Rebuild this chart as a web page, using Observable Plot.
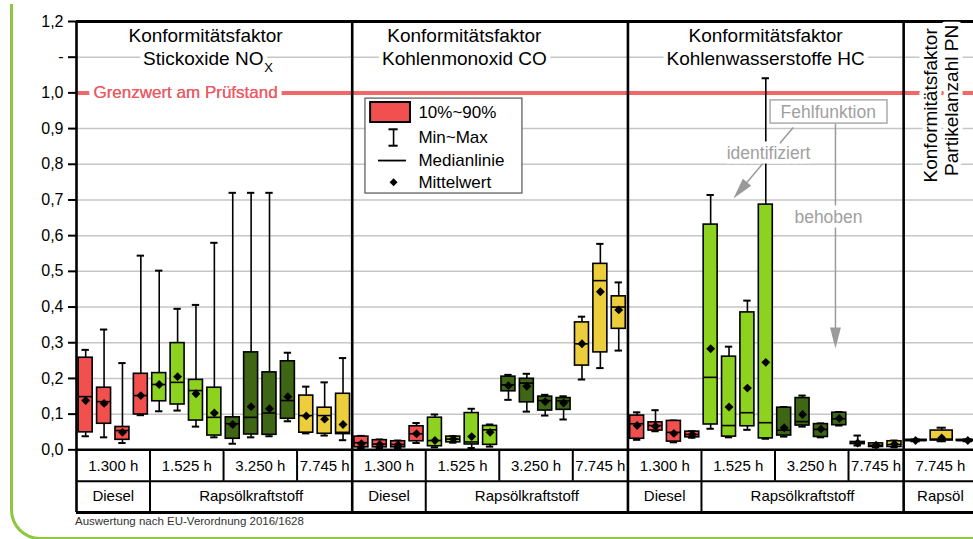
<!DOCTYPE html>
<html><head><meta charset="utf-8">
<script src="https://cdn.jsdelivr.net/npm/d3@7"></script>
<script src="https://cdn.jsdelivr.net/npm/@observablehq/plot@0.6"></script>
<style>
html,body{margin:0;padding:0;background:#fff;overflow:hidden;width:973px;height:539px;}
#wrap{position:relative;width:973px;height:539px;overflow:hidden;}
#deco{position:absolute;left:10px;top:4px;width:1200px;height:533px;border-left:3px solid #8dc63f;border-bottom:3px solid #8dc63f;border-bottom-left-radius:30px;pointer-events:none;z-index:2;}
#caption{position:absolute;left:75px;top:515px;font:11.5px "Liberation Sans",Arial,sans-serif;color:#333;}
</style></head>
<body><div id="wrap"><div id="chart"></div><div id="caption">Auswertung nach EU-Verordnung 2016/1628</div><div id="deco"></div></div>
<script>
// ---------- data ----------
const panels = ["NOx", "CO", "HC", "PN"];
const hours = ["1.300 h", "1.525 h", "3.250 h", "7.745 h"];
const fuels = ["Diesel", "Rapsölkraftstoff"];
const slotHours = [0,0,0,0,1,1,1,1,2,2,2,2,3,3,3];
const pnSlotHours = [3,3,3];
const yTicks = [0,0.1,0.2,0.3,0.4,0.5,0.6,0.7,0.8,0.9,1.0,1.1,1.2];
const limitValue = 1.0;

const noxMin    = [0.038,0.035,0.019,0.097,0.108,0.110,0.065,0.035,0.017,0.035,0.038,0.080,0.046,0.040,0.027];
const noxP10    = [0.049,0.073,0.028,0.099,0.136,0.127,0.082,0.040,0.031,0.043,0.042,0.087,0.048,0.045,0.044];
const noxMedian = [0.149,0.135,0.054,0.152,0.183,0.189,0.166,0.091,0.073,0.091,0.103,0.138,0.096,0.096,0.049];
const noxMean   = [0.138,0.130,0.049,0.152,0.183,0.205,0.157,0.103,0.071,0.121,0.115,0.149,0.095,0.086,0.071];
const noxP90    = [0.258,0.174,0.064,0.213,0.215,0.299,0.196,0.174,0.091,0.273,0.217,0.248,0.152,0.118,0.157];
const noxMax    = [0.280,0.337,0.243,0.544,0.502,0.395,0.406,0.580,0.720,0.720,0.720,0.272,0.177,0.189,0.257];

const coMin    = [0.005,0.005,0.005,0.019,0.007,0.020,0.005,0.009,0.140,0.107,0.096,0.085,0.197,0.229,0.278];
const coP10    = [0.007,0.007,0.007,0.024,0.010,0.021,0.015,0.014,0.164,0.133,0.110,0.112,0.236,0.273,0.339];
const coMedian = [0.020,0.016,0.015,0.045,0.026,0.030,0.022,0.056,0.182,0.187,0.138,0.137,0.297,0.474,0.400];
const coMean   = [0.017,0.015,0.014,0.045,0.026,0.030,0.037,0.049,0.180,0.178,0.135,0.131,0.297,0.443,0.392];
const coP90    = [0.037,0.027,0.024,0.066,0.090,0.037,0.103,0.067,0.205,0.199,0.149,0.145,0.357,0.521,0.430];
const coMax    = [0.039,0.029,0.026,0.075,0.099,0.038,0.115,0.071,0.210,0.213,0.154,0.150,0.373,0.577,0.469];

const hcMin    = [0.028,0.052,0.021,0.034,0.059,0.035,0.056,0.031,0.037,0.065,0.035,0.068,0.012,0.007,0.007];
const hcP10    = [0.031,0.054,0.023,0.035,0.071,0.037,0.066,0.032,0.040,0.068,0.036,0.069,0.016,0.008,0.008];
const hcMedian = [0.073,0.068,0.049,0.043,0.203,0.068,0.104,0.076,0.055,0.079,0.057,0.087,0.019,0.013,0.015];
const hcMean   = [0.068,0.066,0.046,0.043,0.283,0.120,0.173,0.245,0.062,0.099,0.058,0.088,0.019,0.013,0.016];
const hcP90    = [0.096,0.077,0.081,0.051,0.631,0.261,0.385,0.687,0.118,0.145,0.072,0.104,0.022,0.018,0.024];
const hcMax    = [0.105,0.111,0.082,0.052,0.714,0.289,0.418,1.041,0.120,0.152,0.074,0.106,0.040,0.019,0.026];

const pnMin    = [0.024,0.024,0.024];
const pnP10    = [0.025,0.026,0.025];
const pnMedian = [0.026,0.030,0.026];
const pnMean   = [0.026,0.033,0.026];
const pnP90    = [0.028,0.054,0.028];
const pnMax    = [0.029,0.062,0.029];

const panelTitles = [
  ["Konformitätsfaktor", "Stickoxide NO"],
  ["Konformitätsfaktor", "Kohlenmonoxid CO"],
  ["Konformitätsfaktor", "Kohlenwasserstoffe HC"]
];
const pnTitle = ["Konformitätsfaktor", "Partikelanzahl PN"];
const limitLabel = "Grenzwert am Prüfstand";
const legendLabels = ["10%~90%", "Min~Max", "Medianlinie", "Mittelwert"];
const noteLabels = ["Fehlfunktion", "identifiziert", "behoben"];

// ---------- styles / layout ----------
const palette = ["#f24f4f", "#8cd21e", "#3e6614", "#ecce3c"];
const SLOTS = 15, PN_SLOT = 1.42, PN_START = 0.65;
const xMax = 48.8;
const row1Bottom = -0.088, row2Bottom = -0.1756;
const row1Y = -0.0454, row2Y = -0.1308;
const groupSpans = [[0,4],[4,8],[8,12],[12,15]];
const fuelSpans = [[0,4],[4,15]];
const titleX = [7.02, 21.1, 37.49];
const titleY = [1.1605, 1.0944];
const FONT = '"Liberation Sans", Arial, Helvetica, sans-serif';

function build(pi, hIdx, mn, p10, med, mean, p90, mx) {
  const pn = pi === 3;
  return mn.map((_, i) => {
    const x = pn ? pi * SLOTS + PN_START + i * PN_SLOT : pi * SLOTS + i + 0.5;
    const hw = pn ? 0.6 : 0.38;
    const cw = pn ? 0.25 : 0.2;
    return {panel: panels[pi], hour: hours[hIdx[i]], x, x1: x - hw, x2: x + hw, c1: x - cw, c2: x + cw,
      min: mn[i], p10: p10[i], median: med[i], mean: mean[i], p90: p90[i], max: mx[i]};
  });
}
const boxes = [
  ...build(0, slotHours, noxMin, noxP10, noxMedian, noxMean, noxP90, noxMax),
  ...build(1, slotHours, coMin, coP10, coMedian, coMean, coP90, coMax),
  ...build(2, slotHours, hcMin, hcP10, hcMedian, hcMean, hcP90, hcMax),
  ...build(3, pnSlotHours, pnMin, pnP10, pnMedian, pnMean, pnP90, pnMax)
];

// table cells
const row1Cells = [], row2Cells = [], row1Div = [], row2Div = [];
for (let p = 0; p < 3; p++) {
  groupSpans.forEach((s, i) => {
    row1Cells.push({x: p * SLOTS + (s[0] + s[1]) / 2, text: hours[i]});
    if (i > 0) row1Div.push(p * SLOTS + s[0]);
  });
  fuelSpans.forEach((s, i) => {
    row2Cells.push({x: p * SLOTS + (s[0] + s[1]) / 2, text: fuels[i]});
    if (i > 0) row2Div.push(p * SLOTS + s[0]);
  });
}
row1Cells.push({x: 3 * SLOTS + 2, text: hours[3]});
row2Cells.push({x: 3 * SLOTS + 2, text: "Rapsöl"});

const titleRows = [];
panelTitles.forEach((t, p) => {
  titleRows.push({x: titleX[p], y: titleY[0], text: t[0]});
  if (p !== 0) titleRows.push({x: titleX[p], y: titleY[1], text: t[1]});
});

const arrowHead = {draw(ctx, size) {
  const k = Math.sqrt(size);
  ctx.moveTo(0, -0.97 * k); ctx.lineTo(0.44 * k, 0.73 * k); ctx.lineTo(-0.44 * k, 0.73 * k); ctx.closePath();
}};

const fmt = v => Math.abs(v - 1.1) < 1e-9 ? "-" : v.toFixed(1).replace(".", ",");
const black = "black";
const grey = "#9a9a9a";

const chart = Plot.plot({
  width: 973, height: 516,
  marginLeft: 76, marginRight: 0, marginTop: 21, marginBottom: 4,
  x: {domain: [0, xMax], axis: null},
  y: {domain: [row2Bottom, 1.2]},
  color: {domain: hours, range: palette},
  style: {fontFamily: FONT, fontSize: "16px", background: "transparent", overflow: "visible"},
  marks: [
    // grid
    Plot.ruleY(yTicks.filter(v => v > 0 && v < 1.2 && Math.abs(v - limitValue) > 1e-9), {stroke: "#c6c6c6", strokeWidth: 1.5}),
    Plot.ruleY([limitValue], {stroke: "#f06868", strokeWidth: 4}),
    // whiskers
    Plot.ruleX(boxes, {x: "x", y1: "min", y2: "max", stroke: black, strokeWidth: 1.6}),
    Plot.ruleY(boxes, {y: "max", x1: "c1", x2: "c2", stroke: black, strokeWidth: 2}),
    Plot.ruleY(boxes, {y: "min", x1: "c1", x2: "c2", stroke: black, strokeWidth: 2}),
    // boxes
    Plot.rect(boxes, {x1: "x1", x2: "x2", y1: "p10", y2: "p90", fill: "hour", stroke: black, strokeWidth: 1.6}),
    Plot.ruleY(boxes, {y: "median", x1: "x1", x2: "x2", stroke: black, strokeWidth: 1.6}),
    Plot.dot(boxes, {x: "x", y: "mean", symbol: "diamond2", r: 4, fill: black, stroke: "none"}),
    // frame and table
    Plot.ruleY([1.2], {stroke: black, strokeWidth: 3}),
    Plot.ruleY([0], {stroke: black, strokeWidth: 2.5}),
    Plot.ruleY([row1Bottom], {stroke: black, strokeWidth: 2}),
    Plot.ruleY([row2Bottom], {stroke: black, strokeWidth: 3}),
    Plot.ruleX([0, 15, 30, 45], {y1: row2Bottom, y2: 1.2, stroke: black, strokeWidth: 2.6}),
    Plot.ruleX(row1Div, {y1: row1Bottom, y2: 0, stroke: black, strokeWidth: 2}),
    Plot.ruleX(row2Div, {y1: row2Bottom, y2: row1Bottom, stroke: black, strokeWidth: 2}),
    Plot.text(row1Cells, {x: "x", y: row1Y, text: "text", fontSize: 15, fill: black}),
    Plot.text(row2Cells, {x: "x", y: row2Y, text: "text", fontSize: 15, fill: black}),
    // titles
    Plot.text(titleRows, {x: "x", y: "y", text: "text", fontSize: 19, fill: black, stroke: "white", strokeWidth: 9, paintOrder: "stroke"}),
    Plot.text([panelTitles[0][1]], {x: 10.17, y: titleY[1], text: d => d, textAnchor: "end", fontSize: 19, fill: black, stroke: "white", strokeWidth: 9, paintOrder: "stroke"}),
    Plot.text(["X"], {x: 10.22, y: 1.0709, text: d => d, textAnchor: "start", fontSize: 13, fill: black, stroke: "white", strokeWidth: 5, paintOrder: "stroke"}),
    Plot.text(pnTitle, {x: (d, i) => [46.47, 47.61][i], y: (d, i) => [0.965, 0.979][i], text: d => d, rotate: -90, fontSize: 19, fill: black, stroke: "white", strokeWidth: 9, paintOrder: "stroke"}),
    // limit label
    Plot.text([limitLabel], {x: 0.92, y: limitValue, text: d => d, textAnchor: "start", fontSize: 17, fill: "#ee5a64", stroke: "white", strokeWidth: 10, paintOrder: "stroke"}),
    Plot.text([limitLabel], {x: 0.92, y: limitValue, text: d => d, textAnchor: "start", fontSize: 17, fill: "#ee5a64"}),
    // legend
    Plot.rect([0], {x1: 15.72, x2: 24.26, y1: 0.718, y2: 0.984, fill: "white", stroke: "#555", strokeWidth: 1.2}),
    Plot.rect([0], {x1: 16.0, x2: 18.17, y1: 0.917, y2: 0.973, fill: palette[0], stroke: black, strokeWidth: 2}),
    Plot.ruleX([17.25], {y1: 0.852, y2: 0.898, stroke: black, strokeWidth: 1.6}),
    Plot.ruleY([0.852, 0.898], {x1: 17.0, x2: 17.5, stroke: black, strokeWidth: 2}),
    Plot.ruleY([0.8104], {x1: 16.43, x2: 17.95, stroke: black, strokeWidth: 1.8}),
    Plot.dot([0], {x: 17.25, y: 0.7496, symbol: "diamond2", r: 3.6, fill: black, stroke: "none"}),
    Plot.text(legendLabels, {x: 18.6, y: (d, i) => [0.9457, 0.8756, 0.8104, 0.7496][i], text: d => d, textAnchor: "start", fontSize: 17, fill: black}),
    // annotations
    Plot.link([0], {x1: 38.99, y1: 0.903, x2: 36.16, y2: 0.730, stroke: grey, strokeWidth: 1.5}),
    Plot.link([0], {x1: 41.29, y1: 0.914, x2: 41.29, y2: 0.3174, stroke: grey, strokeWidth: 1.5}),
    Plot.dot([0], {x: 36.16, y: 0.730, symbol: arrowHead, r: 7, rotate: 220, fill: grey, stroke: "none"}),
    Plot.dot([0], {x: 41.29, y: 0.3174, symbol: arrowHead, r: 7, rotate: 180, fill: grey, stroke: "none"}),
    Plot.rect([0], {x1: 37.76, x2: 44.12, y1: 0.914, y2: 0.979, fill: "white", stroke: "#aaa", strokeWidth: 1.5}),
    Plot.text([noteLabels[0]], {x: 40.9, y: 0.945, text: d => d, fontSize: 17.5, fill: "#a0a0a0"}),
    Plot.text([noteLabels[1]], {x: 37.65, y: 0.83, text: d => d, fontSize: 17.5, fill: "#a0a0a0", stroke: "white", strokeWidth: 9, paintOrder: "stroke"}),
    Plot.text([noteLabels[2]], {x: 40.91, y: 0.651, text: d => d, fontSize: 17.5, fill: "#a0a0a0", stroke: "white", strokeWidth: 9, paintOrder: "stroke"}),
    // y axis
    Plot.axisY({ticks: yTicks, tickFormat: fmt, tickSize: 8, tickPadding: 5, fontSize: 16, stroke: black, strokeWidth: 2, fill: black, label: null})
  ]
});
document.getElementById("chart").appendChild(chart);
</script></body></html>
